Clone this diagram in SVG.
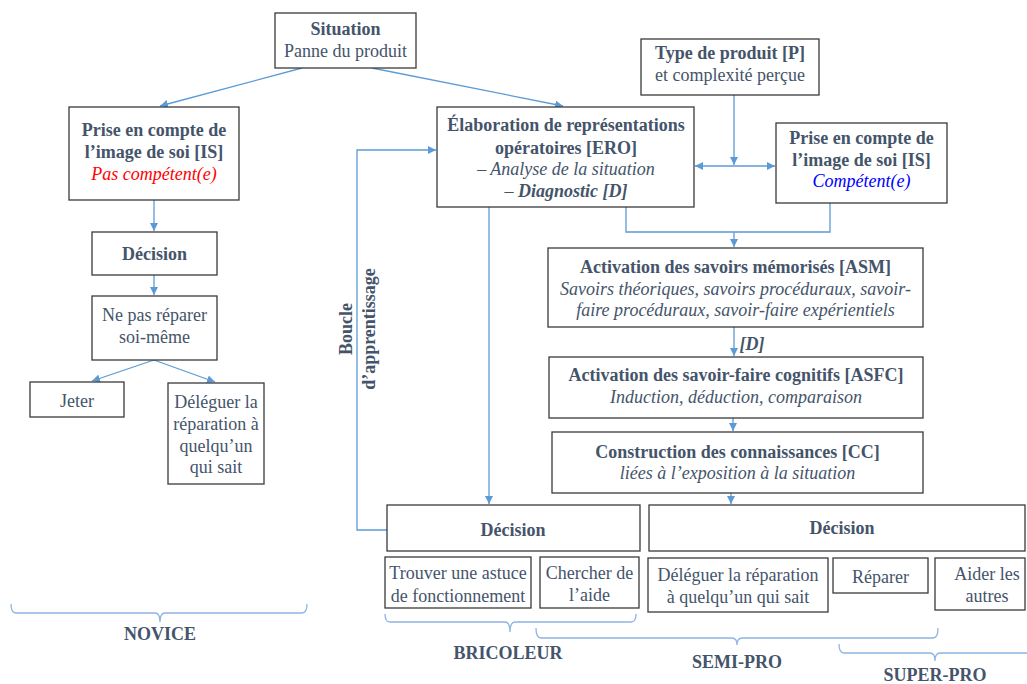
<svg xmlns="http://www.w3.org/2000/svg" width="1027" height="684" viewBox="0 0 1027 684" font-family="'Liberation Serif', serif" font-size="18">
<defs>
<marker id="ah" viewBox="0 0 10 10" refX="10" refY="5" markerWidth="8" markerHeight="8" markerUnits="userSpaceOnUse" orient="auto-start-reverse">
<path d="M0,0 L10,5 L0,10 z" fill="#5b9bd5"/>
</marker>
<style>
rect.b{fill:#fff;stroke:#3a3a3a;stroke-width:1.3}
text{font-family:'Liberation Serif',serif;font-size:18px;fill:#44546a;text-anchor:middle}
.bd{font-weight:bold}
.it{font-style:italic}
.c{fill:none;stroke:#5b9bd5;stroke-width:1.3}
.br{fill:none;stroke:#8db4e2;stroke-width:1.3}
</style>
</defs>
<rect width="1027" height="684" fill="#fff"/>

<g id="connectors">
<line class="c" x1="302" y1="68" x2="160" y2="106" marker-end="url(#ah)"/>
<line class="c" x1="372" y1="68" x2="563" y2="106" marker-end="url(#ah)"/>
<line class="c" x1="154" y1="200" x2="154" y2="231" marker-end="url(#ah)"/>
<line class="c" x1="154" y1="275" x2="154" y2="295" marker-end="url(#ah)"/>
<line class="c" x1="154" y1="360" x2="92" y2="381" marker-end="url(#ah)"/>
<line class="c" x1="154" y1="360" x2="215" y2="382" marker-end="url(#ah)"/>
<line class="c" x1="734" y1="95" x2="734" y2="165" marker-end="url(#ah)"/>
<line class="c" x1="695" y1="166" x2="775" y2="166" marker-start="url(#ah)" marker-end="url(#ah)"/>
<polyline class="c" points="626,207 626,232 830,232 830,203"/>
<line class="c" x1="734" y1="232" x2="734" y2="247" marker-end="url(#ah)"/>
<line class="c" x1="734" y1="327" x2="734" y2="356" marker-end="url(#ah)"/>
<line class="c" x1="733" y1="418" x2="733" y2="431" marker-end="url(#ah)"/>
<line class="c" x1="731" y1="493" x2="731" y2="504" marker-end="url(#ah)"/>
<line class="c" x1="489" y1="207" x2="489" y2="504" marker-end="url(#ah)"/>
<polyline class="c" points="387,530 357,530 357,150 436,150" marker-end="url(#ah)"/>
</g>

<g id="situation">
<rect class="b" x="275" y="13" width="141" height="55"/>
<text class="bd" x="345.5" y="35">Situation</text>
<text x="345.5" y="57">Panne du produit</text>
</g>

<g id="is-novice">
<rect class="b" x="69" y="107" width="170" height="93"/>
<text class="bd" x="154" y="136">Prise en compte de</text>
<text class="bd" x="154" y="158">l’image de soi [IS]</text>
<text class="it" x="154" y="180" style="fill:#ff0000">Pas compétent(e)</text>
</g>

<g id="decision-novice">
<rect class="b" x="92" y="232" width="125" height="43"/>
<text class="bd" x="154.5" y="260">Décision</text>
</g>

<g id="ne-pas-reparer">
<rect class="b" x="92" y="296" width="125" height="64"/>
<text x="154.5" y="321">Ne pas réparer</text>
<text x="154.5" y="343">soi-même</text>
</g>

<g id="jeter">
<rect class="b" x="30" y="382" width="94" height="35"/>
<text x="77" y="407">Jeter</text>
</g>

<g id="deleguer-novice">
<rect class="b" x="168" y="383" width="96" height="101"/>
<text x="216" y="408">Déléguer la</text>
<text x="216" y="430">réparation à</text>
<text x="216" y="452">quelqu’un</text>
<text x="216" y="473">qui sait</text>
</g>

<g id="ero">
<rect class="b" x="437" y="107" width="257" height="100"/>
<text class="bd" x="566" y="131">Élaboration de représentations</text>
<text class="bd" x="566" y="154">opératoires [ERO]</text>
<text class="it" x="566" y="175">– Analyse de la situation</text>
<text x="566" y="197">– <tspan class="bd it">Diagnostic [D]</tspan></text>
</g>

<g id="type-produit">
<rect class="b" x="641" y="39" width="178" height="56"/>
<text class="bd" x="730" y="59">Type de produit [P]</text>
<text x="730" y="81">et complexité perçue</text>
</g>

<g id="is-competent">
<rect class="b" x="776" y="123" width="171" height="80"/>
<text class="bd" x="861.5" y="144">Prise en compte de</text>
<text class="bd" x="861.5" y="166">l’image de soi [IS]</text>
<text class="it" x="861.5" y="187" style="fill:#0000ff">Compétent(e)</text>
</g>

<g id="asm">
<rect class="b" x="548" y="248" width="375" height="79"/>
<text class="bd" x="735.5" y="273">Activation des savoirs mémorisés [ASM]</text>
<text class="it" x="735.5" y="295">Savoirs théoriques, savoirs procéduraux, savoir-</text>
<text class="it" x="735.5" y="316">faire procéduraux, savoir-faire expérientiels</text>
</g>

<g id="label-d">
<text class="bd it" x="752" y="350">[D]</text>
</g>

<g id="asfc">
<rect class="b" x="549" y="357" width="374" height="61"/>
<text class="bd" x="736" y="381">Activation des savoir-faire cognitifs [ASFC]</text>
<text class="it" x="736" y="403">Induction, déduction, comparaison</text>
</g>

<g id="cc">
<rect class="b" x="552" y="432" width="371" height="61"/>
<text class="bd" x="737.5" y="458">Construction des connaissances [CC]</text>
<text class="it" x="737.5" y="479">liées à l’exposition à la situation</text>
</g>

<g id="decision-bricoleur">
<rect class="b" x="387" y="505" width="253" height="46"/>
<text class="bd" x="513" y="536">Décision</text>
</g>

<g id="decision-pro">
<rect class="b" x="649" y="505" width="376" height="46"/>
<text class="bd" x="842" y="534">Décision</text>
</g>

<g id="trouver">
<rect class="b" x="385" y="557" width="146" height="51"/>
<text x="458" y="579">Trouver une astuce</text>
<text x="458" y="602">de fonctionnement</text>
</g>

<g id="chercher">
<rect class="b" x="540" y="557" width="99" height="51"/>
<text x="589.5" y="579">Chercher de</text>
<text x="589.5" y="601">l’aide</text>
</g>

<g id="deleguer-pro">
<rect class="b" x="648" y="558" width="180" height="54"/>
<text x="738" y="581">Déléguer la réparation</text>
<text x="738" y="603">à quelqu’un qui sait</text>
</g>

<g id="reparer">
<rect class="b" x="833" y="558" width="95" height="35"/>
<text x="880.5" y="583">Réparer</text>
</g>

<g id="aider">
<rect class="b" x="935" y="558" width="90" height="52"/>
<text x="987" y="580">Aider les</text>
<text x="987" y="602">autres</text>
</g>

<g id="boucle">
<text class="bd" transform="translate(352,329) rotate(-90)">Boucle</text>
<text class="bd" transform="translate(375,329) rotate(-90)">d’apprentissage</text>
</g>

<g id="novice">
<path class="br" d="M11,604 Q11,613 16,613 L155,613 Q160,613 160,622 Q160,613 165,613 L302,613 Q307,613 307,604"/>
<text class="bd" x="160" y="640">NOVICE</text>
</g>

<g id="bricoleur">
<path class="br" d="M385,614 Q385,622 390,622 L505,622 Q510,622 510,632 Q510,622 515,622 L631,622 Q636,622 636,614"/>
<text class="bd" x="508" y="659">BRICOLEUR</text>
</g>

<g id="semi-pro">
<path class="br" d="M536,628 Q536,638 541,638 L732,638 Q737,638 737,645 Q737,638 742,638 L933,638 Q938,638 938,628"/>
<text class="bd" x="737" y="668">SEMI-PRO</text>
</g>

<g id="super-pro">
<path class="br" d="M839,644 Q839,653 844,653 L930,653 Q935,653 935,661 Q935,653 940,653 L1027,653"/>
<text class="bd" x="935" y="681">SUPER-PRO</text>
</g>
</svg>
